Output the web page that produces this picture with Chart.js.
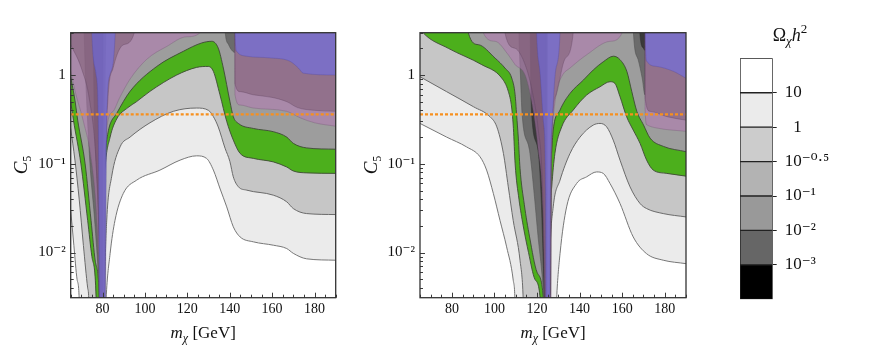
<!DOCTYPE html>
<html>
<head>
<meta charset="utf-8">
<script src="https://cdn.jsdelivr.net/npm/chart.js@4.4.1/dist/chart.umd.min.js"></script>
<style>
  body { margin: 0; background: #fff; }
  #wrap { position: relative; width: 872px; height: 358px; }
  canvas { position: absolute; top: 0; }
</style>
</head>
<body>
<div id="wrap">
  <canvas id="panelLeft" width="350" height="358" style="left:0"></canvas>
  <canvas id="panelRight" width="350" height="358" style="left:350px"></canvas>
  <canvas id="colorBar" width="172" height="358" style="left:700px"></canvas>
</div>
<script>
// ========================================================
// Data: contour boundaries [m_chi (GeV), C5].
// Each curve bounds the region above it (lower relic density).
// 20 / 0.001 = curve leaves the frame at top / bottom.
// ========================================================
const massTicks = [80, 100, 120, 140, 160, 180];
const couplingTicks = [0.01, 0.1, 1];
const couplingLabels = ['10⁻²', '10⁻¹', '1'];
const cutC5 = 0.36;

const barColors = ['#000000', '#666666', '#999999', '#b3b3b3', '#cccccc', '#ebebeb', '#ffffff'];
const barLabels = ['', '10⁻³', '10⁻²', '10⁻¹', '10⁻⁰·⁵', '\u20071', '10'];

// left panel (resonance near 80 GeV)
const leftOmega10 = [[65,0.03],[66.5,0.012],[68,0.005],[69,0.003],[69.3,0.001],[81,0.001],[81.7,0.003],[83.6,0.0098],[85.9,0.0231],[89.8,0.0463],[96.1,0.0654],[107.1,0.0849],[116.6,0.11],[124.4,0.123],[129.1,0.115],[132.3,0.085],[135.5,0.052],[138.6,0.0327],[141.7,0.0195],[144.9,0.015],[151.2,0.0132],[160.6,0.0121],[166.9,0.0111],[170,0.0098],[176.3,0.0085],[190,0.0082]];
const leftOmega1 = [[65,0.25],[67,0.11],[69,0.04],[71,0.012],[73,0.004],[73.5,0.003],[73.8,0.001],[80.8,0.001],[81.2,0.006],[82,0.0232],[84.3,0.0713],[88.3,0.1555],[93,0.2],[102.4,0.29],[113.4,0.39],[124.4,0.425],[130,0.4],[132.3,0.34],[134.6,0.26],[137.8,0.15],[140.1,0.106],[141.7,0.0713],[144.1,0.0551],[148,0.0505],[160.6,0.0443],[166.9,0.0373],[170,0.0313],[176.3,0.0275],[190,0.0268]];
const leftGreenLo = [[65,0.5],[66.3,0.31],[69.8,0.1],[73,0.023],[75,0.009],[77,0.003],[77.3,0.001],[80.6,0.001],[80.8,0.04],[81.2,0.09],[83.6,0.2],[86.7,0.32],[92,0.43],[96,0.5],[102.4,0.655],[115,1.0],[124.4,1.22],[129.9,1.25],[132.3,1.1],[135.4,0.6],[138.6,0.3],[141.7,0.185],[144.9,0.131],[151.2,0.115],[160.6,0.105],[166.9,0.092],[170,0.083],[176.3,0.079],[190,0.078]];
const leftGreenHi = [[65,0.95],[67,0.52],[68.3,0.31],[71.8,0.1],[74.6,0.023],[76.6,0.008],[78.5,0.003],[78.8,0.001],[80.6,0.001],[80.8,0.05],[81.5,0.15],[83,0.25],[86.7,0.37],[93,0.655],[105.6,1.25],[118.1,1.85],[126.8,2.3],[131.5,2.4],[134.6,2.01],[137,1.2],[140.1,0.505],[141.7,0.34],[144.1,0.285],[151.2,0.25],[160.6,0.23],[166.9,0.2],[170,0.17],[176.3,0.151],[190,0.146]];
const leftDark = [[65,20],[70,20],[72,1],[74.1,0.1],[76.5,0.02],[78.5,0.003],[79,0.001],[80.8,0.001],[81,0.1],[81.5,3],[82,20],[136.5,20],[137.8,3.2],[139.5,2.2],[141,1.9],[142.4,1.8],[142.6,20],[190,20]];
const leftBlack = [[65,20],[75,20],[76.2,0.3],[77,0.1],[78.2,0.02],[79,0.004],[79.3,0.001],[80,0.001],[80.3,20],[190,20]];
const leftLavender = [[65,1.1],[67.5,0.6],[71,0.3],[75,0.1],[77.5,0.02],[78.7,0.003],[79,0.001],[81,0.001],[81.5,0.1],[82,0.25],[85,0.39],[88,0.55],[93,0.9],[100.8,1.5],[110.3,2.1],[119.7,2.7],[126,3.0],[127,20],[142.3,20],[142.5,0.6],[144.9,0.46],[151.1,0.425],[166.9,0.39],[173.2,0.33],[180,0.29],[190,0.265]];
const leftMauve = [[65,2.2],[70,1.2],[74,0.5],[77,0.1],[78.5,0.01],[79,0.001],[81,0.001],[81.5,0.08],[82.5,0.5],[85,1.2],[90,2.2],[95,3],[96,20],[142.3,20],[142.5,0.8],[145,0.65],[151,0.6],[160,0.56],[167,0.5],[172,0.43],[180,0.4],[190,0.39]];
const leftBlue = [[65,20],[74.5,20],[75,3],[77,1],[78,0.3],[78.8,0.001],[81.2,0.001],[82,0.3],[83.5,1],[86,3],[86.5,20],[142.3,20],[142.5,2.97],[143.3,1.85],[148,1.63],[159,1.56],[168.4,1.43],[172.4,1.2],[174.7,1.05],[190,1.0]];

// right panel (resonance near 125 GeV)
const rightOmega10 = [[65,0.285],[77.5,0.2],[86.9,0.155],[93.2,0.12],[96.3,0.085],[99.5,0.046],[102.6,0.023],[105.7,0.0116],[108.8,0.0049],[109.6,0.003],[110,0.001],[128.5,0.001],[129.2,0.003],[130.8,0.0097],[133.9,0.0327],[138.6,0.06],[143.3,0.0713],[148,0.081],[151.1,0.078],[154.3,0.06],[159,0.0357],[165.2,0.015],[171.5,0.0097],[179.3,0.0082],[190,0.0075]];
const rightOmega1 = [[65,0.957],[77.5,0.65],[90.1,0.44],[97.9,0.339],[101.1,0.261],[104.2,0.131],[106.5,0.055],[108.8,0.023],[112,0.0082],[113.5,0.003],[114,0.001],[125.3,0.001],[126.1,0.0097],[127.6,0.0327],[130.8,0.0654],[135.5,0.131],[140.2,0.2],[146.4,0.273],[149.6,0.285],[152.7,0.261],[155.8,0.185],[159,0.11],[163.7,0.055],[168.4,0.0357],[171.5,0.0313],[179.3,0.0275],[190,0.0252]];
const rightGreenLo = [[65,3.4],[66.6,2.97],[78.3,2.0],[94,1.31],[103.4,0.925],[106.5,0.655],[108.1,0.425],[108.9,0.25],[109.7,0.1],[111.5,0.04],[113.5,0.02],[116,0.01],[119,0.005],[121.5,0.003],[122,0.001],[126.2,0.001],[126.5,0.03],[126.9,0.055],[128.4,0.131],[131.6,0.261],[137,0.403],[143.3,0.595],[149.6,0.738],[154.3,0.841],[156.6,0.805],[159,0.57],[162.1,0.339],[165.2,0.24],[168.4,0.17],[171.5,0.11],[174.6,0.085],[180.9,0.078],[190,0.0726]];
const rightGreenHi = [[65,20],[87,20],[87.7,3.0],[92.4,2.2],[100.3,1.55],[104.9,1.2],[108.1,0.925],[109.7,0.6],[110.4,0.357],[111.2,0.195],[112,0.089],[114,0.035],[116.5,0.015],[120,0.006],[123,0.003],[123.5,0.001],[126.2,0.001],[126.4,0.06],[126.8,0.131],[127.6,0.24],[130.8,0.403],[135.5,0.621],[141.8,0.879],[146.4,1.14],[151.1,1.41],[155.9,1.63],[159,1.49],[162.2,1.1],[164.5,0.655],[166.9,0.39],[170,0.275],[173.1,0.195],[179.4,0.157],[190,0.137]];
const rightDark = [[65,20],[110.8,20],[111.5,3],[112.2,1],[113,0.36],[116.5,0.14],[118.5,0.05],[120.5,0.015],[122.5,0.005],[123.5,0.002],[123.8,0.001],[124.6,0.001],[125,20],[164.5,20],[165.3,3],[167.5,1.5],[169.5,0.9],[170.7,0.6],[170.9,20],[190,20]];
const rightBlack = [[65,20],[116.5,20],[117,1],[117.5,0.36],[120.5,0.14],[121.8,0.05],[122.8,0.01],[123.6,0.002],[123.8,0.001],[124.3,0.001],[124.5,20],[167.5,20],[168.3,3],[170,2.0],[170.7,1.9],[170.9,20],[190,20]];
const rightLavender = [[65,20],[94,20],[94.8,2.97],[100.3,2.4],[106.5,1.69],[109.7,1.31],[114.4,1.0],[117.5,0.5],[120.5,0.15],[122.8,0.03],[123.8,0.002],[124,0.001],[126.4,0.001],[126.8,0.1],[127.7,0.35],[129.5,0.7],[132,1.0],[135.5,1.2],[143.3,1.69],[154.3,2.4],[160,3.0],[161,20],[170.6,20],[170.8,0.4],[171.6,0.275],[176.3,0.253],[190,0.232]];
const rightMauve = [[65,20],[104,20],[104.9,3],[109.7,2.0],[114.4,1.31],[117.5,0.7],[120.5,0.25],[122.5,0.06],[123.8,0.002],[124,0.001],[126.3,0.001],[127,0.2],[129,0.6],[133,1.5],[137,3],[138,20],[170.6,20],[170.8,0.55],[173.1,0.39],[181,0.34],[190,0.31]];
const rightBlue = [[65,20],[119,20],[119.8,3],[121.5,1],[123,0.3],[124,0.05],[124.2,0.001],[126,0.001],[126.3,0.05],[127.2,0.3],[128.5,1],[130.8,3],[131.5,20],[170.6,20],[170.8,2.97],[171.6,1.43],[176.3,1.25],[184.1,1.1],[190,0.92]];

const FONT = "'Liberation Serif', 'DejaVu Serif', serif";

// ========================================================
// helpers
// ========================================================
function layer(points, fill, line, width) {
    return {
        data: points.map(p => ({ x: p[0], y: p[1] })),
        fill: 'end',
        backgroundColor: fill,
        borderColor: line,
        borderWidth: width,
        pointRadius: 0,
        cubicInterpolationMode: 'monotone',
        clip: 0
    };
}

// draw a row of text pieces (for sub/superscripts), centred on cx
function drawRuns(ctx, runs, cx, y) {
    let total = 0;
    runs.forEach(r => { ctx.font = r.f; total += ctx.measureText(r.t).width; });
    let x = cx - total / 2;
    ctx.textAlign = 'left';
    ctx.textBaseline = 'alphabetic';
    runs.forEach(r => {
        ctx.font = r.f;
        ctx.fillText(r.t, x, y + (r.dy || 0));
        x += ctx.measureText(r.t).width;
    });
}

const panelDecor = {
    id: 'panelDecor',
    afterDatasetsDraw(chart) {
        const { ctx, chartArea: a, scales: { x, y } } = chart;
        ctx.save();
        ctx.strokeStyle = '#3a3a3a';
        ctx.lineWidth = 1;
        ctx.beginPath();
        // inward ticks, bottom
        for (let v = 65; v <= 190; v += 5) {
            const px = Math.round(x.getPixelForValue(v)) + 0.5;
            const len = v % 20 === 0 ? 5 : 3;
            ctx.moveTo(px, a.bottom);
            ctx.lineTo(px, a.bottom - len);
        }
        // inward ticks, left (log)
        for (let d = -3; d <= 0; d++) {
            for (let m = 1; m <= 9; m++) {
                const v = m * Math.pow(10, d);
                if (v < y.min || v > y.max) continue;
                const py = Math.round(y.getPixelForValue(v)) + 0.5;
                ctx.moveTo(a.left, py);
                ctx.lineTo(a.left + (m === 1 ? 5 : 3), py);
            }
        }
        ctx.stroke();
        ctx.strokeStyle = '#333';
        ctx.lineWidth = 1.3;
        ctx.strokeRect(a.left, a.top, a.right - a.left, a.bottom - a.top);
        ctx.restore();
    },
    afterDraw(chart) {
        const { ctx, chartArea: a } = chart;
        ctx.save();
        ctx.fillStyle = '#111';
        drawRuns(ctx, [
            { t: 'm', f: 'italic 17px ' + FONT },
            { t: 'χ', f: 'italic 12px ' + FONT, dy: 4 },
            { t: ' [GeV]', f: '17px ' + FONT }
        ], (a.left + a.right) / 2, 338);
        ctx.translate(21, 165);
        ctx.rotate(-Math.PI / 2);
        drawRuns(ctx, [
            { t: 'C', f: 'italic 19px ' + FONT },
            { t: '5', f: '12px ' + FONT, dy: 4 }
        ], 0, 6);
        ctx.restore();
    }
};

// ========================================================
// 1. Panels — contour bands of relic density
// ========================================================
function drawPanel(id, bands, axisLeft, padRight) {
    const sets = [
        layer(bands.om10, '#ebebeb', '#777777', 1),
        layer(bands.om1, '#c6c6c6', '#6a6a6a', 1),
        layer(bands.greenLo, '#4caf1c', '#3e4a36', 0.9),
        layer(bands.greenHi, '#9d9d9d', '#3e4a36', 0.9),
        layer(bands.dark, '#6b6b6b', '#555555', 0.6),
        layer(bands.black, '#3a3a3a', '#333333', 0.6),
        layer(bands.lavender, 'rgba(178,121,178,0.55)', 'rgba(110,80,110,0.45)', 0.7),
        layer(bands.mauve, 'rgba(128,93,117,0.55)', 'rgba(90,60,90,0.45)', 0.7),
        layer(bands.blue, 'rgba(106,109,242,0.55)', 'rgba(80,70,160,0.45)', 0.7),
        {
            data: [{ x: 65, y: cutC5 }, { x: 190, y: cutC5 }],
            borderColor: '#f7901e',
            borderWidth: 2.2,
            borderDash: [3, 2],
            pointRadius: 0,
            fill: false,
            clip: 0
        }
    ];
    // first in list = bottom layer
    sets.forEach((s, i) => { s.order = sets.length - i; });

    new Chart(document.getElementById(id), {
        type: 'line',
        data: { datasets: sets },
        options: {
            responsive: false,
            animation: false,
            devicePixelRatio: 1,
            layout: { padding: { top: 32.7, right: padRight, bottom: 0, left: 0 } },
            plugins: { legend: { display: false }, tooltip: { enabled: false } },
            scales: {
                x: {
                    type: 'linear', min: 65, max: 190,
                    afterBuildTicks: s => { s.ticks = massTicks.map(v => ({ value: v })); },
                    afterFit: s => { s.height = 60.3; },
                    ticks: { font: { family: FONT, size: 14 }, color: '#111', padding: 3 },
                    grid: { display: false, drawTicks: false },
                    border: { display: false }
                },
                y: {
                    type: 'logarithmic', min: 0.0031, max: 3.0,
                    afterBuildTicks: s => { s.ticks = couplingTicks.map(v => ({ value: v })); },
                    afterFit: s => { s.width = axisLeft; },
                    ticks: {
                        font: { family: FONT, size: 15 }, color: '#111', padding: 5,
                        callback: v => couplingLabels[couplingTicks.indexOf(v)]
                    },
                    grid: { display: false, drawTicks: false },
                    border: { display: false }
                }
            }
        },
        plugins: [panelDecor]
    });
}

drawPanel('panelLeft', {
    om10: leftOmega10, om1: leftOmega1, greenLo: leftGreenLo, greenHi: leftGreenHi,
    dark: leftDark, black: leftBlack, lavender: leftLavender, mauve: leftMauve, blue: leftBlue
}, 70.7, 14.3);

drawPanel('panelRight', {
    om10: rightOmega10, om1: rightOmega1, greenLo: rightGreenLo, greenHi: rightGreenHi,
    dark: rightDark, black: rightBlack, lavender: rightLavender, mauve: rightMauve, blue: rightBlue
}, 70, 14);

// ========================================================
// 2. Colour bar — Omega h^2 levels
// ========================================================
const barTitle = {
    id: 'barTitle',
    afterDraw(chart) {
        const ctx = chart.ctx;
        ctx.save();
        ctx.fillStyle = '#111';
        drawRuns(ctx, [
            { t: 'Ω', f: '18px ' + FONT },
            { t: 'χ', f: 'italic 13px ' + FONT, dy: 4 },
            { t: 'h', f: 'italic 18px ' + FONT },
            { t: '2', f: '13px ' + FONT, dy: -8 }
        ], 90, 41);
        ctx.restore();
    }
};

new Chart(document.getElementById('colorBar'), {
    type: 'bar',
    data: {
        labels: [''],
        datasets: barColors.map(c => ({
            data: [1],
            backgroundColor: c,
            borderColor: '#222',
            borderWidth: 1,
            borderSkipped: false,
            barPercentage: 1,
            categoryPercentage: 1
        }))
    },
    options: {
        responsive: false,
        animation: false,
        devicePixelRatio: 1,
        layout: { padding: { top: 58.3, right: 0, bottom: 58.7, left: 40 } },
        plugins: { legend: { display: false }, tooltip: { enabled: false } },
        scales: {
            x: { stacked: true, display: false },
            y: {
                stacked: true, position: 'right', min: 0, max: 7,
                afterBuildTicks: s => { s.ticks = [1, 2, 3, 4, 5, 6].map(v => ({ value: v })); },
                afterFit: s => { s.width = 99.3; },
                ticks: {
                    font: { family: FONT, size: 17 }, color: '#111', padding: 8,
                    callback: v => barLabels[v]
                },
                grid: { drawOnChartArea: false, drawTicks: true, tickLength: 4, color: '#222' },
                border: { display: false }
            }
        }
    },
    plugins: [barTitle]
});
</script>
</body>
</html>
